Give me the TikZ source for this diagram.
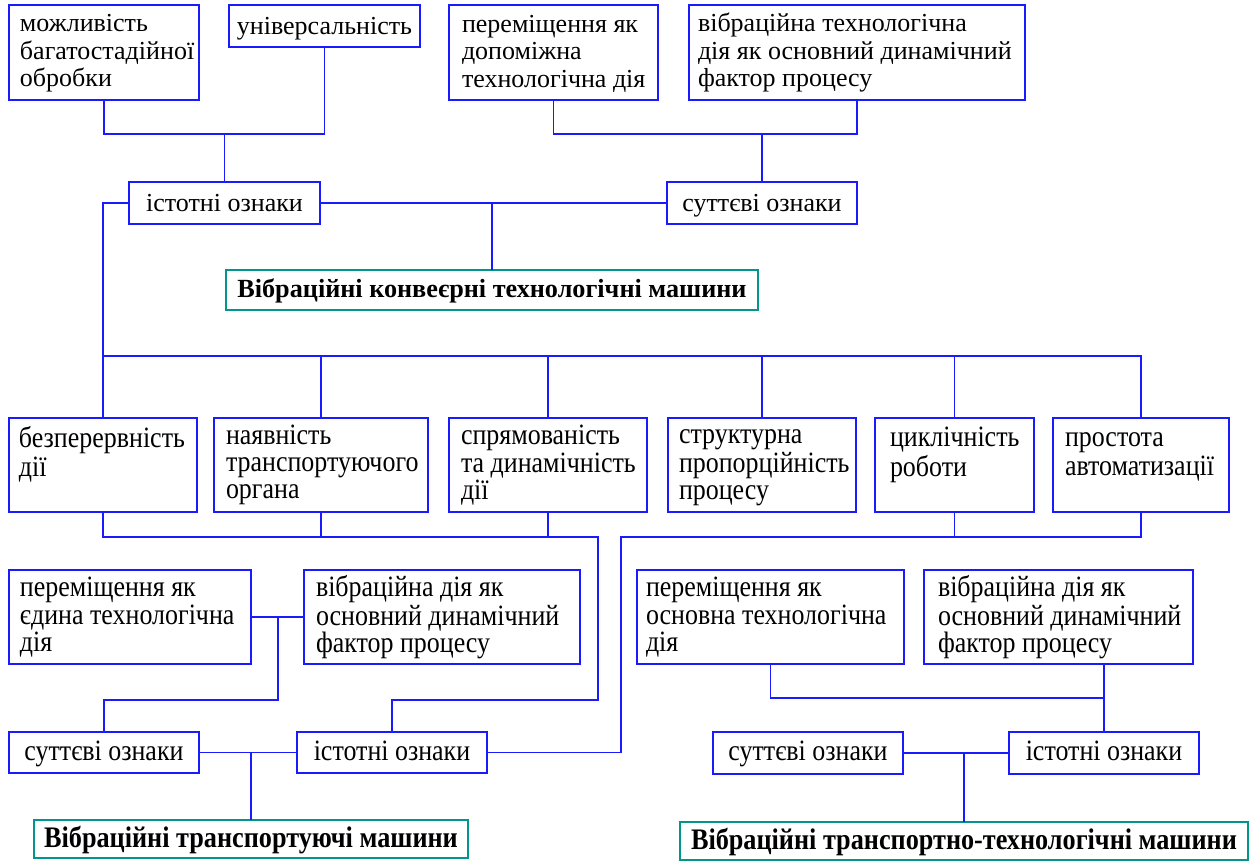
\documentclass[tikz,border=0pt]{standalone}
\usepackage{fontspec}
\setmainfont{Liberation Serif}
\newfontfamily\condfont{Liberation Serif}[FakeStretch=0.88]
\definecolor{bblue}{RGB}{26,26,255}
\definecolor{tealb}{RGB}{0,150,140}
\tikzset{
  box/.style={draw=bblue, line width=1.9pt, anchor=north west, outer sep=0pt, inner sep=0pt},
  mbox/.style={draw=tealb, line width=2.4pt, anchor=north west, outer sep=0pt, inner sep=0pt},
  tb/.style n args={3}{minimum width=#1pt, minimum height=#2pt, text width=#1pt, align=flush left,
    execute at begin node={\leftskip=#3pt\relax\hyphenpenalty=10000 \strut}},
  cb/.style n args={2}{minimum width=#1pt, minimum height=#2pt, align=center},
  topf/.style={font=\fontsize{26}{27.5}\selectfont},
  lowf/.style={font=\condfont\fontsize{29.5}{26.8}\selectfont},
  ctop/.style={text height=22.25pt, text depth=5.25pt},
  clow/.style={text height=21pt, text depth=6pt},
  mtopf/.style={font=\bfseries\fontsize{26.2}{28}\selectfont, text height=20pt, text depth=5.5pt},
  mlowf/.style={font=\condfont\bfseries\fontsize{29.8}{30}\selectfont, text height=21pt, text depth=5pt},
  conn/.style={draw=bblue, line width=1.6pt}
}
\begin{document}
\begin{tikzpicture}[x=1pt,y=-1pt]
\useasboundingbox (0,0) rectangle (1254,866);
% top row
\node[box,topf,tb={190}{95}{11}] (A1) at (9,5) {можливість\\багатостадійної\\обробки};
\node[box,topf,ctop,cb={191}{42}] (A2) at (229,5) {універсальність};
\node[box,topf,tb={209}{95}{13}] (A3) at (449,5) {переміщення як\\допоміжна\\технологічна дія};
\node[box,topf,tb={336}{95}{9}] (A4) at (689,5) {вібраційна технологічна\\дія як основний динамічний\\фактор процесу};
\node[box,topf,ctop,cb={191}{42}] (I1) at (129,182) {істотні ознаки};
\node[box,topf,ctop,cb={190}{42}] (S1) at (667,182) {суттєві ознаки};
\node[mbox,mtopf,cb={532}{40}] (M1) at (226,270) {Вібраційні конвеєрні технологічні машини};
% middle row
\node[box,lowf,tb={188}{94}{10}] (C1) at (9,418) {безперервність\\дії\\~};
\node[box,lowf,tb={214}{94}{12}] (C2) at (214,418) {наявність\\транспортуючого\\органа};
\node[box,lowf,tb={198}{94}{12}] (C3) at (449,418) {спрямованість\\та динамічність\\дії};
\node[box,lowf,tb={188}{94}{11}] (C4) at (668,418) {структурна\\пропорційність\\процесу};
\node[box,lowf,tb={159}{94}{15}] (C5) at (875,418) {циклічність\\роботи\\~};
\node[box,lowf,tb={176}{94}{12}] (C6) at (1053,418) {простота\\автоматизації\\~};
% bottom left
\node[box,lowf,tb={242}{94}{11}] (D1) at (9,570) {переміщення як\\єдина технологічна\\дія};
\node[box,lowf,tb={276}{94}{12}] (D2) at (304,570) {вібраційна дія як\\основний динамічний\\фактор процесу};
\node[box,lowf,clow,cb={190}{41}] (D3) at (9,732) {суттєві ознаки};
\node[box,lowf,clow,cb={190}{41}] (D4) at (297,732) {істотні ознаки};
\node[mbox,mlowf,cb={434}{38}] (M2) at (34,820) {Вібраційні транспортуючі машини};
% bottom right
\node[box,lowf,tb={267}{94}{9}] (E1) at (637,570) {переміщення як\\основна технологічна\\дія};
\node[box,lowf,tb={269}{94}{14}] (E2) at (924,570) {вібраційна дія як\\основний динамічний\\фактор процесу};
\node[box,lowf,clow,cb={190}{42}] (E3) at (713,732) {суттєві ознаки};
\node[box,lowf,clow,cb={190}{42}] (E4) at (1009,732) {істотні ознаки};
\node[mbox,mlowf,cb={568}{38}] (M3) at (680,822) {Вібраційні транспортно-технологічні машини};
% connectors top
\coordinate (j1) at (224.5,134);
\draw[conn] (A1.south) |- (j1) -| (A2.south);
\draw[conn] (j1) -- (I1.north);
\coordinate (j3) at (762,134);
\draw[conn] (A3.south) |- (j3) -| (A4.south);
\draw[conn] (j3) -- (S1.north);
\draw[conn] (I1.east) -- (S1.west);
\draw[conn] (M1.north) -- (M1.north |- I1.east);
\draw[conn] (I1.west) -| (C1.north);
\coordinate (bar) at (0,356);
\draw[conn] (C1.north |- bar) -| (C6.north);
\foreach \n in {C2,C3,C4,C5} \draw[conn] (\n.north) -- (\n.north |- bar);
% connectors lower
\coordinate (k1) at (598,537);
\coordinate (k2) at (598,700);
\draw[conn] (C1.south) |- (k1) -- (k2) -| (D4.north);
\draw[conn] (C2.south) -- (C2.south |- k1);
\draw[conn] (C3.south) -- (C3.south |- k1);
\coordinate (k3) at (621,537);
\draw[conn] (C6.south) |- (k3) |- (D4.east);
\draw[conn] (C5.south) -- (C5.south |- k3);
\draw[conn] (D1.east) -- (D2.west);
\coordinate (k4) at (278,617);
\coordinate (k5) at (278,700);
\draw[conn] (k4) -- (k5) -| (D3.north);
\draw[conn] (D3.east) -- (D4.west);
\draw[conn] (M2.north) -- (M2.north |- D3.east);
\coordinate (k6) at (1104,698);
\draw[conn] (E1.south) |- (k6);
\draw[conn] (E2.south -| E4.north) -- (E4.north);
\draw[conn] (E3.east) -- (E4.west);
\draw[conn] (M3.north) -- (M3.north |- E3.east);
\end{tikzpicture}
\end{document}
